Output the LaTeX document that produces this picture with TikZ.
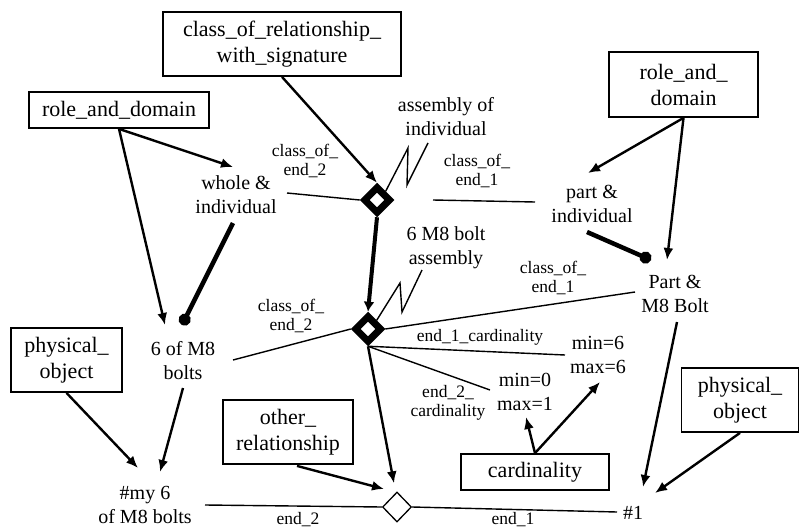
\documentclass[tikz,border=0pt]{standalone}
\usepackage{fontspec}
\setmainfont{Liberation Serif}
\usetikzlibrary{arrows.meta,shapes.geometric,calc}
\begin{document}
\begin{tikzpicture}[x=1pt,y=-1pt,
 box/.style={draw,line width=1.8pt,align=center,font=\fontsize{22}{26}\selectfont,inner sep=0pt},
 lbl/.style={align=center,font=\fontsize{20}{24}\selectfont,inner sep=0pt},
 sml/.style={align=center,font=\fontsize{17.5}{19}\selectfont,inner sep=0pt},
 arr/.style={line width=2.4pt,-{Latex[length=12pt,width=10pt]}},
 dotl/.style={line width=4.5pt,-{Circle[length=12pt]}},
 thinl/.style={line width=1.4pt},
 bdia/.style={diamond,draw,line width=7pt,minimum width=27.5pt,minimum height=27.5pt,inner sep=0pt,fill=white},
 tdia/.style={diamond,draw,line width=1.3pt,minimum width=29pt,minimum height=30pt,inner sep=0pt,fill=white}]
\useasboundingbox (0,0) rectangle (800,530);
% boxes
\node[box,minimum width=238pt,minimum height=64pt] (cors) at (282,44) {class\_of\_relationship\_\\with\_signature};
\node[box,minimum width=180pt,minimum height=36pt] (rd1) at (119,110) {role\_and\_domain};
\node[box,minimum width=149pt,minimum height=65pt] (rd2) at (683.5,84.5) {role\_and\_\\domain};
\node[box,minimum width=111pt,minimum height=64pt] (po1) at (66.5,360) {physical\_\\object};
\node[box,minimum width=130pt,minimum height=64pt] (oth) at (288,432) {other\_\\relationship};
\node[box,minimum width=148pt,minimum height=36pt] (card) at (535,472) {cardinality};
\node[box,minimum width=117pt,minimum height=64pt] (po2) at (740,400) {physical\_\\object};
% labels
\node[lbl] (whole) at (236,195) {whole \&\\individual};
\node[lbl] (asm) at (446,117) {assembly of\\individual};
\node[sml] (coe2a) at (305,161) {class\_of\_\\end\_2};
\node[sml] (coe1a) at (477,171) {class\_of\_\\end\_1};
\node[lbl] (part) at (592,204) {part \&\\individual};
\node[lbl] (bolt) at (446,248) {6 M8 bolt\\assembly};
\node[sml] (coe1b) at (553,278) {class\_of\_\\end\_1};
\node[lbl] (pm8) at (675,294) {Part \&\\M8 Bolt};
\node[sml] (coe2b) at (291,316) {class\_of\_\\end\_2};
\node[lbl] (six) at (183,361) {6 of M8\\bolts};
\node[sml] (e1c) at (480,337) {end\_1\_cardinality};
\node[lbl] (mm6) at (598,355) {min=6\\max=6};
\node[lbl] (mm0) at (525,392) {min=0\\max=1};
\node[sml] (e2c) at (448,403) {end\_2\_\\cardinality};
\node[lbl] (my6) at (145,505) {\#my 6\\of M8 bolts};
\node[sml] (e2) at (298,520) {end\_2};
\node[sml] (e1) at (513,520) {end\_1};
\node[lbl] (one) at (633,513) {\#1};
% diamonds
\node[bdia] (dU) at (377,200) {};
\node[bdia] (dL) at (368,329) {};
\node[tdia] (dB) at (397,507) {};
\coordinate (c1) at (433,200);
% connectors
\draw[arr] (cors.south) -- (dU.north);
\draw[arr] (rd1.south) -- ($(whole)+(-3,-28)$);
\draw[arr] (rd1.south) -- ($(six)+(-18,-36)$);
\draw[dotl] ($(whole)+(-3,28)$) -- ($(six)+(-1,-36)$);
\draw[thinl] ($(whole)+(51,-2)$) -- (dU.west);
\draw[thinl] (c1) -- ($(part)+(-57,-2)$);
\draw[thinl] (dU.north east) -- (408,148) -- (407,185) -- ($(asm)+(-18,26)$);
\draw[line width=4pt,-{Latex[length=10pt,width=11pt]}] (dU.south) -- (dL.north);
\draw[thinl] (dL.north east) -- (400,283) -- (402,312) -- ($(bolt)+(-24,22)$);
\draw[arr] (rd2.south) -- ($(part)+(-4,-31)$);
\draw[arr] (rd2.south) -- ($(pm8)+(-8,-34)$);
\draw[dotl] ($(part)+(-5,28)$) -- ($(pm8)+(-24,-34)$);
\draw[thinl] ($(six)+(50,-1)$) -- (dL.west);
\draw[thinl] (dL.east) -- ($(pm8)+(-40,-2)$);
\draw[thinl] (dL.south) -- ($(mm6)+(-33,0)$);
\draw[thinl] (dL.south) -- ($(mm0)+(-35,-2)$);
\draw[arr] (dL.south) -- ($(dB.north)+(-3,-8)$);
\draw[arr] ($(oth.south)+(9,1)$) -- ($(dB)+(-13,-18)$);
\draw[thinl] ($(my6)+(60,0)$) -- (dB.west);
\draw[thinl] (dB.east) -- ($(one)+(-16,-1)$);
\draw[arr] ($(six)+(0,27)$) -- ($(my6)+(15,-33)$);
\draw[arr] (po1.south) -- ($(my6)+(-7,-37)$);
\draw[arr] (card.north) -- ($(mm0)+(1,25)$);
\draw[arr] (card.north) -- ($(mm6)+(2,27)$);
\draw[arr] ($(pm8)+(2,28)$) -- ($(one)+(10,-26)$);
\draw[arr] (po2.south) -- ($(one)+(22,-20)$);
\end{tikzpicture}
\end{document}
